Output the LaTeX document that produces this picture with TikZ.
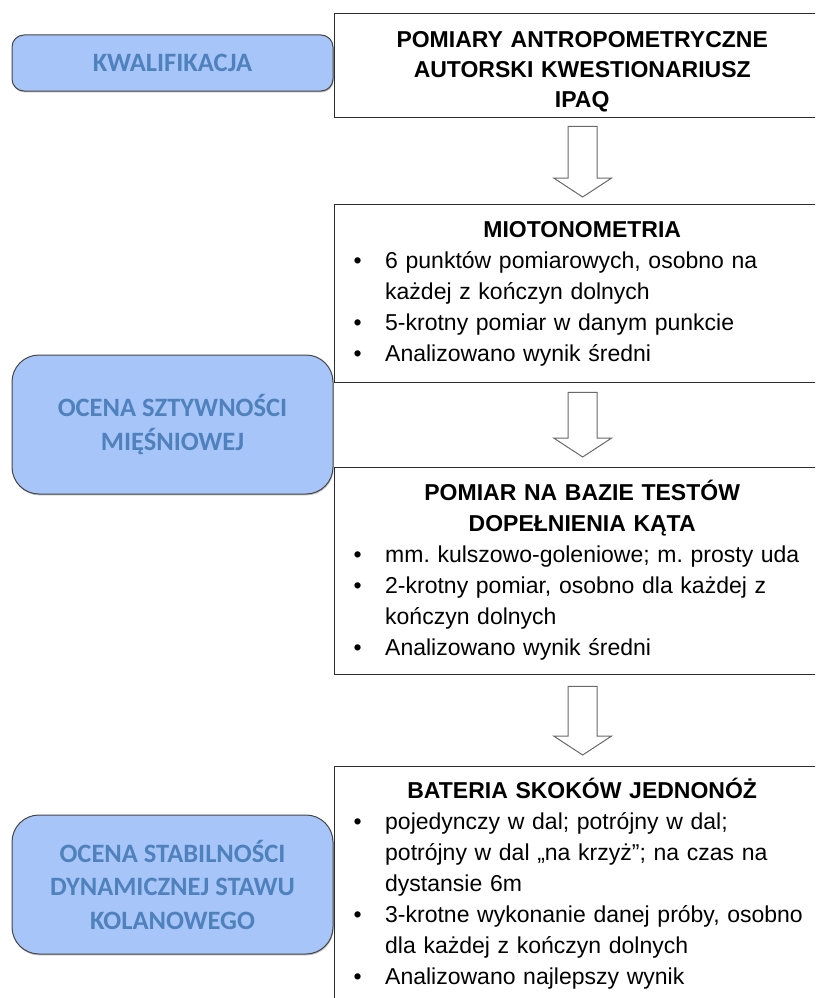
\documentclass[tikz,border=0pt]{standalone}
\usepackage{fontspec}
\newfontfamily\arialf{Liberation Sans}
\newfontfamily\calibf{Carlito}
\usetikzlibrary{shadows}
\definecolor{lbfill}{RGB}{167,197,248}
\definecolor{lbtext}{RGB}{79,129,189}
\definecolor{lbdraw}{RGB}{70,70,70}
\definecolor{rbdraw}{RGB}{45,45,45}
\definecolor{ardraw}{RGB}{105,105,105}
\newcommand{\bpt}[1]{\par\noindent\hangindent=51pt\hangafter=1\hspace*{19.5pt}\makebox[31.5pt][l]{\textbullet}#1\par}
% #1 from node, #2 to node, #3 gap below source, #4 gap above tip, #5 gap above shoulder
\newcommand{\blockarr}[5]{%
  \draw[barrow] ([xshift=-14.5pt,yshift=-#3pt]#1.south) -- ([xshift=14.5pt,yshift=-#3pt]#1.south)
    -- ([xshift=14.5pt,yshift=#5pt]#2.north) -- ([xshift=29pt,yshift=#5pt]#2.north)
    -- ([yshift=#4pt]#2.north) -- ([xshift=-29pt,yshift=#5pt]#2.north)
    -- ([xshift=-14.5pt,yshift=#5pt]#2.north) -- cycle;}
\begin{document}
\begin{tikzpicture}[x=1pt,y=-1pt,
  rbox/.style={draw=rbdraw, line width=1.3pt, rectangle, inner sep=0pt, anchor=north west, minimum width=496pt},
  tnode/.style={inner sep=0pt, anchor=north west, text width=496pt,
                font=\arialf\fontsize{23}{31}\selectfont\frenchspacing},
  lbox/.style={draw=lbdraw, line width=1pt, fill=lbfill, rounded corners=#1, inner sep=0pt,
               minimum width=321pt, text=lbtext, align=center,
               font=\calibf\bfseries\fontsize{26.5}{33.5}\selectfont,
               drop shadow={shadow xshift=0.6pt, shadow yshift=-1.4pt, fill=black, opacity=0.25}},
  barrow/.style={draw=ardraw, line width=1pt, fill=white, line join=miter}
]
\useasboundingbox (0,0) rectangle (815,998);
\clip (0,0) rectangle (815,998);
\fill[white] (0,0) rectangle (815,998);

% right boxes
\node[rbox, minimum height=104pt] (b1) at (334,13) {};
\node[rbox, minimum height=178pt] (b2) at (334,204) {};
\node[rbox, minimum height=207pt] (b3) at (334,467) {};
\node[rbox, minimum height=260pt] (b4) at (334,766) {};

% texts in right boxes
\node[tnode, font=\arialf\fontsize{23}{30}\selectfont] (t1) at (334,25) {%
  {\centering\bfseries\rule{0pt}{22pt}POMIARY ANTROPOMETRYCZNE\\AUTORSKI KWESTIONARIUSZ\\IPAQ\par}};
\node[tnode] (t2) at (334,215) {%
  {\centering\bfseries\rule{0pt}{22pt}MIOTONOMETRIA\par}\raggedright
  \bpt{6 punktów pomiarowych, osobno na\newline każdej z kończyn dolnych}
  \bpt{5-krotny pomiar w danym punkcie}
  \bpt{Analizowano wynik średni}};
\node[tnode] (t3) at (334,478) {%
  {\centering\bfseries\rule{0pt}{22pt}POMIAR NA BAZIE TESTÓW\\DOPEŁNIENIA KĄTA\par}\raggedright
  \bpt{mm. kulszowo-goleniowe; m. prosty uda}
  \bpt{2-krotny pomiar, osobno dla każdej z\newline kończyn dolnych}
  \bpt{Analizowano wynik średni}};
\node[tnode] (t4) at (334,776) {%
  {\centering\bfseries\rule{0pt}{22pt}BATERIA SKOKÓW JEDNONÓŻ\par}\raggedright
  \bpt{pojedynczy w dal; potrójny w dal;\newline potrójny w dal „na krzyż”; na czas na\newline dystansie 6m}
  \bpt{3-krotne wykonanie danej próby, osobno\newline dla każdej z kończyn dolnych}
  \bpt{Analizowano najlepszy wynik}};

% left boxes
\node[lbox=12pt, minimum height=56pt] (l1) at (172.5,63) {KWALIFIKACJA};
\node[lbox=27pt, minimum height=139pt] (l2) at (172.5,424.5) {OCENA SZTYWNOŚCI\\MIĘŚNIOWEJ};
\node[lbox=27pt, minimum height=139pt] (l3) at (172.5,884.5) {OCENA STABILNOŚCI\\DYNAMICZNEJ STAWU\\KOLANOWEGO};

% block arrows
\blockarr{b1}{b2}{8}{7}{26}
\blockarr{b2}{b3}{9}{10}{29}
\blockarr{b3}{b4}{11}{11}{30}
\end{tikzpicture}
\end{document}
